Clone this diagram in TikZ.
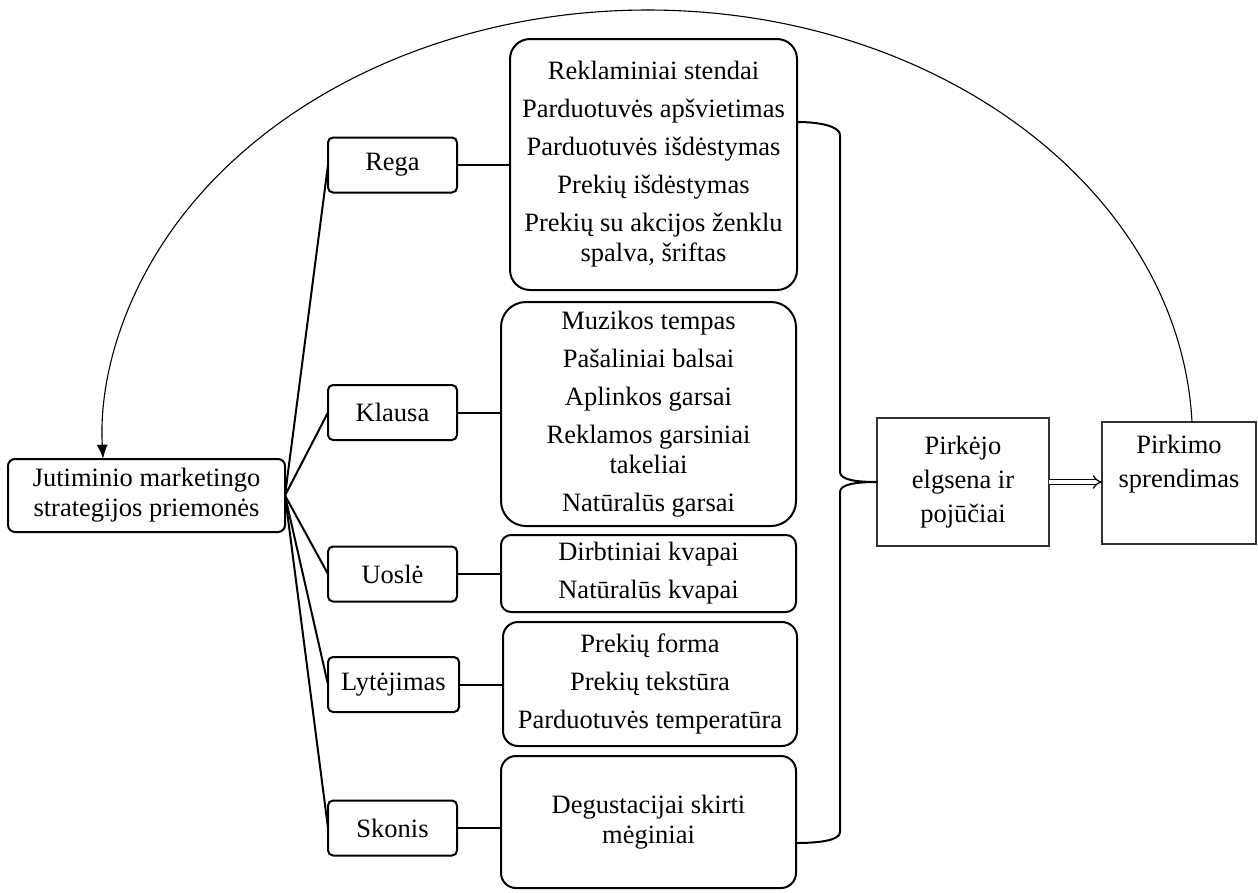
\documentclass[tikz,border=0pt]{standalone}
\usepackage{fontspec}
\setmainfont{Liberation Serif}
\usetikzlibrary{calc,arrows.meta}
\begin{document}
\begin{tikzpicture}[x=1pt,y=-1pt,
  every node/.style={inner sep=0pt,outer sep=0pt,align=center,
    font=\fontsize{26.5}{30}\selectfont},
  sensebox/.style={draw,line width=2pt,rounded corners=5pt,
    minimum width=129pt,minimum height=55pt},
  itembox/.style={draw,line width=2pt,minimum width=295pt},
  resultbox/.style={draw=black!80,line width=1.6pt,
    font=\fontsize{26.5}{34}\selectfont},
  link/.style={line width=2pt},
  brace/.style={line width=2pt,line join=round},
  feedback/.style={line width=1.1pt,-{Latex[length=14pt,width=11pt]}},
  implies/.style={double,double distance=3.5pt,line width=1.2pt,
    -{Implies[length=9pt]}}
]
\useasboundingbox (0,0) rectangle (1258,892);

% source of the strategy
\node[draw,line width=2pt,rounded corners=7pt,minimum width=277pt,
  minimum height=73pt] (main) at (146.5,495.5)
  {Jutiminio marketingo\\strategijos priemonės};

% the five senses
\node[sensebox] (rega)   at (392.5,165)   {Rega};
\node[sensebox] (klausa) at (392.5,412.5) {Klausa};
\node[sensebox] (uosle)  at (392.5,574)   {Uoslė};
\node[sensebox,minimum width=131pt] (lyt) at (393.5,684.5) {Lytėjimas};
\node[sensebox] (skonis) at (392.5,828)   {Skonis};

% tools for each sense
\node[itembox,rounded corners=20pt,minimum width=287pt,minimum height=251pt]
  (regaI) at (653.5,164.5)
  {Reklaminiai stendai\\[8pt]Parduotuvės apšvietimas\\[8pt]Parduotuvės išdėstymas\\[8pt]Prekių išdėstymas\\[8pt]Prekių su akcijos ženklu\\spalva, šriftas};
\node[itembox,rounded corners=25pt,minimum height=224pt]
  (klausaI) at (648.5,414)
  {Muzikos tempas\\[8pt]Pašaliniai balsai\\[8pt]Aplinkos garsai\\[8pt]Reklamos garsiniai\\takeliai\\[8pt]Natūralūs garsai};
\node[itembox,rounded corners=10pt,minimum height=77pt]
  (uosleI) at (648.5,573.5)
  {Dirbtiniai kvapai\\[8pt]Natūralūs kvapai};
\node[itembox,rounded corners=15pt,minimum width=294pt,minimum height=124pt]
  (lytI) at (650,684)
  {Prekių forma\\[8pt]Prekių tekstūra\\[8pt]Parduotuvės temperatūra};
\node[itembox,rounded corners=15pt,minimum height=132pt]
  (skonisI) at (648.5,822)
  {Degustacijai skirti\\mėginiai};

% outcome
\node[resultbox,minimum width=172pt,minimum height=128pt] (pe) at (963,482)
  {Pirkėjo\\elgsena ir\\pojūčiai};
\node[resultbox,minimum width=154pt,minimum height=122pt] (pk) at (1179,483)
  {Pirkimo\\sprendimas\\\strut};

% fan-out from the strategy to the senses
\foreach \s in {rega,klausa,uosle,lyt,skonis}
  \draw[link] (main.east) -- (\s.west);

% each sense to its tools
\foreach \s in {rega,klausa,uosle,lyt,skonis}
  \draw[link] (\s.east) -- (\s.east -| \s I.west);

% brace gathering all tools into buyer behaviour
\coordinate (bt) at ($(regaI.north east)+(0,83)$);
\coordinate (bb) at ($(skonisI.south east)+(0,-45)$);
\coordinate (bx) at ($(pe.west)+(-37,0)$);
\draw[brace] (bt) .. controls +(25,0) and +(0,-8) .. (bx |- 0,135)
  -- (bx |- 0,472) .. controls +(0,8) and +(-20,0) .. (pe.west)
  .. controls +(-20,0) and +(0,-8) .. (bx |- 0,492)
  -- (bx |- 0,832) .. controls +(0,8) and +(25,0) .. (bb);

% behaviour leads to the decision
\draw[implies] (pe.east) -- (pe.east -| pk.west);

% feedback loop from the decision back to the strategy
\coordinate (fs) at ($(pk.north west)+(90,0)$);
\draw[feedback] (fs) arc[start angle=-2.4,end angle=-182.5,
  x radius=545,y radius=430];
\end{tikzpicture}
\end{document}
